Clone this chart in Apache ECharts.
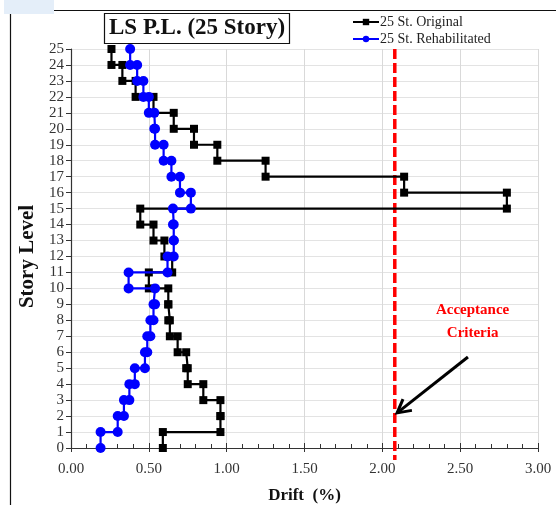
<!DOCTYPE html>
<html>
<head>
<meta charset="utf-8">
<script src="https://cdn.jsdelivr.net/npm/echarts@6/dist/echarts.min.js"></script>
<style>
  html, body { margin: 0; padding: 0; background: #fff; }
  #chart { width: 556px; height: 505px; }
</style>
</head>
<body>
<div id="chart"></div>
<script>
// Inter-story drift (%) per story, story 1 (ground) to story 25 (roof)
const stories = [1,2,3,4,5,6,7,8,9,10,11,12,13,14,15,16,17,18,19,20,21,22,23,24,25];
const driftOriginal = [0.59,0.96,0.96,0.85,0.75,0.74,0.685,0.635,0.625,0.625,0.50,0.65,0.60,0.53,0.445,2.80,2.14,1.25,0.94,0.79,0.66,0.53,0.415,0.33,0.26];
const driftRehab    = [0.19,0.30,0.34,0.375,0.41,0.475,0.49,0.51,0.53,0.54,0.37,0.62,0.66,0.66,0.655,0.77,0.70,0.645,0.595,0.54,0.535,0.50,0.465,0.425,0.38];
const acceptanceDrift = 2.08;
const xTicks = [0, 0.5, 1.0, 1.5, 2.0, 2.5, 3.0];
const seriesNames = ['25 St. Original', '25 St. Rehabilitated'];

// Each story's drift is held constant between its lower and upper floor level
function stepPoints(drifts) {
  const pts = [];
  stories.forEach((s, i) => {
    pts.push([drifts[i], s - 1]);
    pts.push([drifts[i], s]);
  });
  return pts;
}

const serif = '"Liberation Serif", "Times New Roman", serif';
const chart = echarts.init(document.getElementById('chart'), null, { renderer: 'canvas' });

const option = {
  animation: false,
  backgroundColor: '#fff',
  grid: { left: 71, right: 18, top: 49, bottom: 57, containLabel: false, outerBoundsMode: 'none' },
  legend: {
    orient: 'vertical',
    left: 352, top: 15,
    padding: 0,
    itemGap: 3,
    itemWidth: 26, itemHeight: 8,
    textStyle: { fontFamily: serif, fontSize: 14, color: '#222', padding: [0, 0, 0, -4] },
    data: seriesNames
  },
  title: {
    text: 'LS P.L. (25 Story)',
    left: 104, top: 13,
    padding: [4, 5, 4, 5],
    borderColor: '#111', borderWidth: 1.2,
    backgroundColor: '#fff',
    textStyle: { fontFamily: serif, fontWeight: 'bold', fontSize: 23, color: '#111', lineHeight: 23 }
  },
  xAxis: [{
    type: 'value', min: xTicks[0], max: xTicks[xTicks.length - 1], interval: 0.5,
    name: 'Drift  (%)', nameLocation: 'middle', nameGap: 39,
    nameTextStyle: { fontFamily: serif, fontWeight: 'bold', fontSize: 17, color: '#111' },
    axisLine: { lineStyle: { color: '#333', width: 1.2 } },
    axisTick: { show: true, inside: true, length: 5, lineStyle: { color: '#333' } },
    minorTick: { show: true, splitNumber: 5, length: 4, lineStyle: { color: '#333' } },
    axisLabel: { fontFamily: serif, fontSize: 15, color: '#333', margin: 14, formatter: v => v.toFixed(2) },
    splitLine: { show: true, lineStyle: { color: '#d9d9d9', width: 1 } }
  }, {
    // outward half of the major tick marks
    type: 'value', min: 0, max: 3, interval: 0.5, position: 'bottom', gridIndex: 0,
    axisLine: { show: false },
    axisTick: { show: true, inside: false, length: 4, lineStyle: { color: '#333' } },
    axisLabel: { show: false }, splitLine: { show: false }
  }],
  yAxis: {
    type: 'value', min: 0, max: 25, interval: 1,
    name: 'Story Level', nameLocation: 'middle', nameGap: 33, nameRotate: 90,
    nameTextStyle: { fontFamily: serif, fontWeight: 'bold', fontSize: 21, color: '#111', padding: [0, 0, 0, -16] },
    axisLine: { show: true, lineStyle: { color: '#333', width: 1.2 } },
    axisTick: { show: true, inside: false, length: 5, lineStyle: { color: '#333' } },
    axisLabel: { fontFamily: serif, fontSize: 15, color: '#333', margin: 7, lineHeight: 15 },
    splitLine: { show: true, lineStyle: { color: '#e3e3e3', width: 1 } }
  },
  series: [{
    name: seriesNames[0], type: 'line', xAxisIndex: 0,
    data: stepPoints(driftOriginal),
    symbol: 'rect', symbolSize: 8, clip: false,
    itemStyle: { color: '#000' },
    lineStyle: { color: '#000', width: 2.2 },
    z: 3
  }, {
    name: seriesNames[1], type: 'line', xAxisIndex: 0,
    data: stepPoints(driftRehab),
    symbol: 'circle', symbolSize: 10, clip: false,
    itemStyle: { color: '#0000ff' },
    lineStyle: { color: '#0000ff', width: 2.2 },
    z: 4
  }, {
    name: 'Acceptance Criteria', type: 'line', xAxisIndex: 0,
    data: [[acceptanceDrift, 25], [acceptanceDrift, -0.75]],
    symbol: 'none', clip: false, silent: true,
    lineStyle: { color: '#ff0000', width: 3.5, type: [10, 4] },
    z: 2
  }]
};
chart.setOption(option);

// Annotation: label and arrow pointing at the acceptance line
const tail = chart.convertToPixel({ gridIndex: 0 }, [2.55, 5.7]);
const tip = chart.convertToPixel({ gridIndex: 0 }, [2.095, 2.2]);
const ang = Math.atan2(tip[1] - tail[1], tip[0] - tail[0]);
const headLen = 15, spread = 0.5;
const h1 = [tip[0] - headLen * Math.cos(ang - spread), tip[1] - headLen * Math.sin(ang - spread)];
const h2 = [tip[0] - headLen * Math.cos(ang + spread), tip[1] - headLen * Math.sin(ang + spread)];
const labelPos = chart.convertToPixel({ gridIndex: 0 }, [2.58, 9.35]);

chart.setOption({
  graphic: [
    { type: 'rect', left: 4, top: 0, shape: { width: 50, height: 14 }, style: { fill: '#e4eef9' }, silent: true },
    { type: 'rect', shape: { x: 10.5, y: 10.5, width: 600, height: 600 }, style: { fill: 'none', stroke: '#111', lineWidth: 1.2 }, silent: true, z: -1 },
    { type: 'line', shape: { x1: tail[0], y1: tail[1], x2: tip[0], y2: tip[1] }, style: { stroke: '#000', lineWidth: 3 }, z: 10 },
    { type: 'polyline', shape: { points: [h1, tip, h2] }, style: { stroke: '#000', lineWidth: 3, fill: null }, z: 10 },
    { type: 'text', x: labelPos[0], y: labelPos[1],
      style: { text: 'Acceptance\nCriteria', fill: '#ff0000', font: 'bold 15px ' + serif, align: 'center', verticalAlign: 'top', lineHeight: 23 }, z: 10 }
  ]
});
</script>
</body>
</html>
